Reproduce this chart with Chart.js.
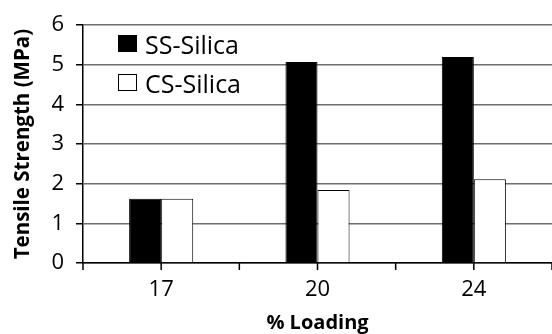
<!DOCTYPE html>
<html>
<head>
<meta charset="utf-8">
<script src="https://cdn.jsdelivr.net/npm/chart.js@4"></script>
<style>
  html, body { margin: 0; padding: 0; background: #fff; }
  #wrap { position: relative; width: 552px; height: 334px; }
  #legend { position: absolute; left: 118px; top: 24px; font-family: "Open Sans", sans-serif; font-size: 25px; color: #000; }
  .item { display: flex; align-items: center; height: 39px; }
  .box { width: 19px; height: 17px; margin-right: 8px; box-sizing: border-box; border: 1px solid #000; }
</style>
</head>
<body>
<div id="wrap">
  <canvas id="chart" width="552" height="334"></canvas>
  <div id="legend"></div>
</div>
<script>
// values
const loadings = ["17", "20", "24"];
const ssSilica = [1.62, 5.07, 5.2];
const csSilica = [1.62, 1.84, 2.11];
const seriesNames = ["SS-Silica", "CS-Silica"];
const seriesColors = ["#000000", "#ffffff"];

/** legend in the top-left of the plot */
function buildLegend() {
  const box = document.getElementById("legend");
  seriesNames.forEach((name, i) => {
    const row = document.createElement("div");
    row.className = "item";
    const sw = document.createElement("span");
    sw.className = "box";
    sw.style.background = seriesColors[i];
    const txt = document.createElement("span");
    txt.textContent = name;
    row.appendChild(sw);
    row.appendChild(txt);
    box.appendChild(row);
  });
}

// tick marks under the x axis: at the category centres and between them
const xTickMarks = {
  id: "xTickMarks",
  afterDraw(chart) {
    const x = chart.scales.x;
    const ctx = chart.ctx;
    const y0 = chart.chartArea.bottom;
    const half = (x.getPixelForValue(1) - x.getPixelForValue(0)) / 2;
    ctx.save();
    ctx.strokeStyle = "#000";
    ctx.lineWidth = 1.5;
    ctx.beginPath();
    for (let i = 0; i < loadings.length; i++) {
      const c = x.getPixelForValue(i);
      [c - half, c, c + half].forEach((px) => {
        ctx.moveTo(px, y0);
        ctx.lineTo(px, y0 + 7);
      });
    }
    ctx.stroke();
    ctx.restore();
  },
};

buildLegend();

const font = "'Open Sans', sans-serif";
new Chart(document.getElementById("chart"), {
  type: "bar",
  data: {
    labels: loadings,
    datasets: [
      {
        label: seriesNames[0],
        data: ssSilica,
        backgroundColor: seriesColors[0],
        borderColor: "#000",
        borderWidth: 1,
        barPercentage: 1,
        categoryPercentage: 0.41,
      },
      {
        label: seriesNames[1],
        data: csSilica,
        backgroundColor: seriesColors[1],
        borderColor: "#000",
        borderWidth: 1,
        barPercentage: 1,
        categoryPercentage: 0.41,
      },
    ],
  },
  options: {
    responsive: false,
    animation: false,
    layout: { padding: { top: 22, right: 0, left: 0, bottom: 0 } },
    plugins: { legend: { display: false }, tooltip: { enabled: false } },
    scales: {
      x: {
        grid: { display: false },
        border: { color: "#000", width: 1.5 },
        ticks: { color: "#000", font: { family: font, size: 22 }, padding: 6 },
        title: {
          display: true,
          text: "% Loading",
          color: "#000",
          font: { family: font, size: 20, weight: "bold" },
          padding: { top: 0, bottom: -1 },
        },
        afterFit(scale) { scale.height = 71; },
      },
      y: {
        min: 0,
        max: 6,
        ticks: { stepSize: 1, color: "#000", font: { family: font, size: 22 }, padding: 12 },
        grid: { color: "#6e6e6e", lineWidth: 1.5, tickLength: 7, tickColor: "#000" },
        border: { color: "#000", width: 1.5 },
        title: {
          display: true,
          text: "Tensile Strength (MPa)",
          color: "#000",
          font: { family: font, size: 20.5, weight: "bold" },
          padding: { top: 11, bottom: 4 },
        },
        afterFit(scale) { scale.width = 83; },
      },
    },
  },
  plugins: [xTickMarks],
});
</script>
</body>
</html>
